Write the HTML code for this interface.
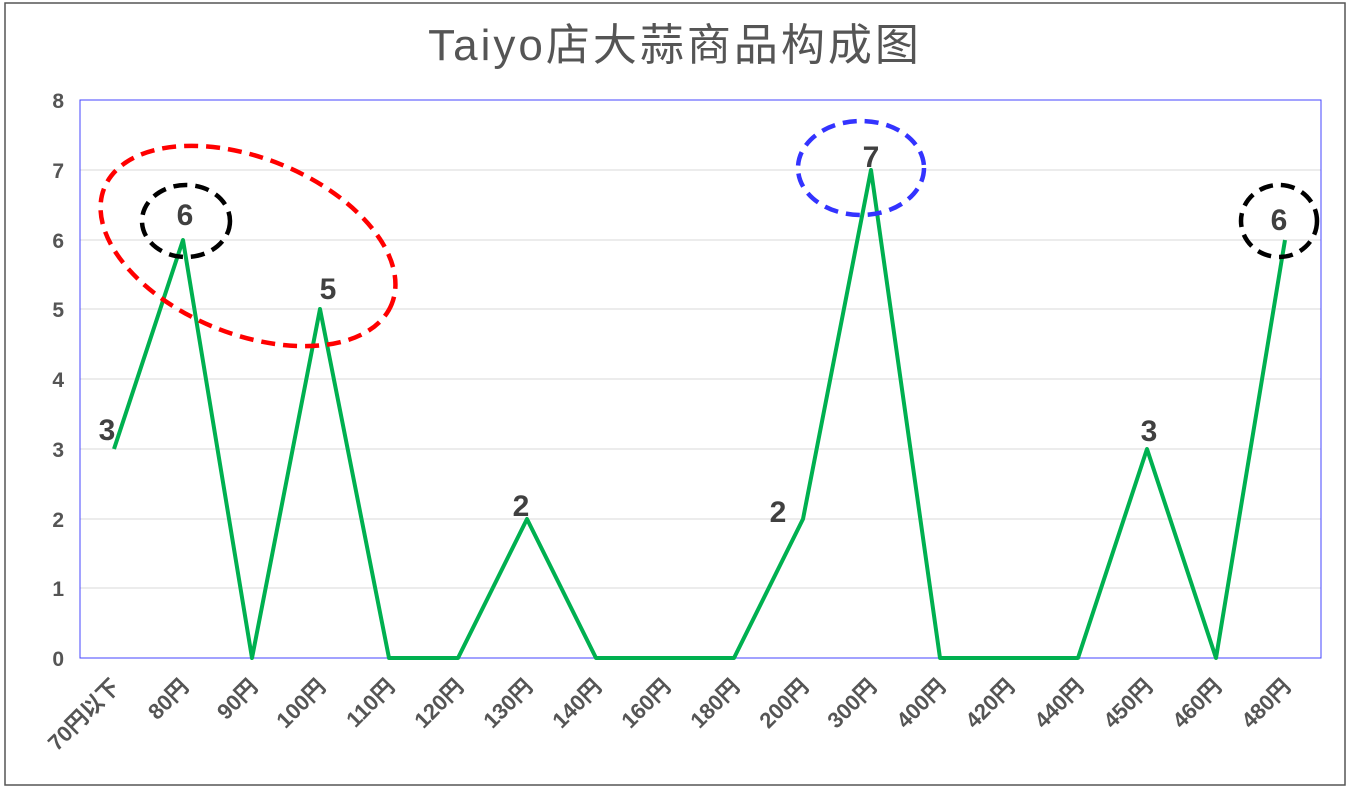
<!DOCTYPE html>
<html><head><meta charset="utf-8"><style>body{margin:0;background:#fff}svg{display:block}</style></head><body>
<svg width="1350" height="788" xmlns="http://www.w3.org/2000/svg" font-family="Liberation Sans, Noto Sans CJK SC, sans-serif">
<rect x="5" y="3" width="1340" height="782" fill="#fff" stroke="#555" stroke-width="1.5"/>
<text x="675" y="60" text-anchor="middle" font-size="44" fill="#555" letter-spacing="3" font-family="Liberation Sans Narrow, Liberation Sans, WenQuanYi Zen Hei, sans-serif">Taiyo店大蒜商品构成图</text>
<g stroke="#d9d9d9" stroke-width="1">
<line x1="80" x2="1321" y1="170" y2="170"/><line x1="80" x2="1321" y1="240" y2="240"/><line x1="80" x2="1321" y1="309" y2="309"/><line x1="80" x2="1321" y1="379" y2="379"/><line x1="80" x2="1321" y1="449" y2="449"/><line x1="80" x2="1321" y1="519" y2="519"/><line x1="80" x2="1321" y1="588" y2="588"/><line x1="80" x2="1321" y1="658" y2="658"/>
</g>
<rect x="80" y="100" width="1241" height="558" fill="none" stroke="#4444ff" stroke-width="1"/>
<g font-size="21" font-weight="bold" fill="#555" text-anchor="end">
<text x="64" y="108">8</text><text x="64" y="178">7</text><text x="64" y="248">6</text><text x="64" y="317">5</text><text x="64" y="387">4</text><text x="64" y="457">3</text><text x="64" y="527">2</text><text x="64" y="596">1</text><text x="64" y="666">0</text>
</g>
<polyline fill="none" stroke="#00b050" stroke-width="4" stroke-linejoin="round" points="114,449 183,240 252,658 320,309 389,658 458,658 527,519 596,658 665,658 734,658 803,519 871,170 940,658 1009,658 1078,658 1147,449 1216,658 1285,240"/>
<g font-size="30" font-weight="bold" fill="#404040" text-anchor="middle">
<text x="107" y="440">3</text><text x="185" y="225">6</text><text x="328" y="299">5</text><text x="521" y="516">2</text><text x="778" y="522">2</text><text x="871" y="167">7</text><text x="1149" y="441">3</text><text x="1279" y="230">6</text>
</g>
<g fill="none" stroke-width="4.5" stroke-dasharray="14 8">
<ellipse cx="248" cy="246" rx="155" ry="88" transform="rotate(22 248 246)" stroke="#ff0000"/>
<ellipse cx="186" cy="221" rx="44" ry="36" stroke="#000"/>
<ellipse cx="1279" cy="221" rx="38" ry="36" stroke="#000"/>
<ellipse cx="861" cy="168" rx="63" ry="47" stroke="#3333ff"/>
</g>
<g font-size="22" font-weight="bold" fill="#555" text-anchor="end">
<text transform="translate(121 688) rotate(-45)">70円以下</text>
<text transform="translate(190 688) rotate(-45)">80円</text>
<text transform="translate(259 688) rotate(-45)">90円</text>
<text transform="translate(327 688) rotate(-45)">100円</text>
<text transform="translate(396 688) rotate(-45)">110円</text>
<text transform="translate(465 688) rotate(-45)">120円</text>
<text transform="translate(534 688) rotate(-45)">130円</text>
<text transform="translate(603 688) rotate(-45)">140円</text>
<text transform="translate(672 688) rotate(-45)">160円</text>
<text transform="translate(741 688) rotate(-45)">180円</text>
<text transform="translate(810 688) rotate(-45)">200円</text>
<text transform="translate(878 688) rotate(-45)">300円</text>
<text transform="translate(947 688) rotate(-45)">400円</text>
<text transform="translate(1016 688) rotate(-45)">420円</text>
<text transform="translate(1085 688) rotate(-45)">440円</text>
<text transform="translate(1154 688) rotate(-45)">450円</text>
<text transform="translate(1223 688) rotate(-45)">460円</text>
<text transform="translate(1292 688) rotate(-45)">480円</text>
</g>
</svg>
</body></html>
